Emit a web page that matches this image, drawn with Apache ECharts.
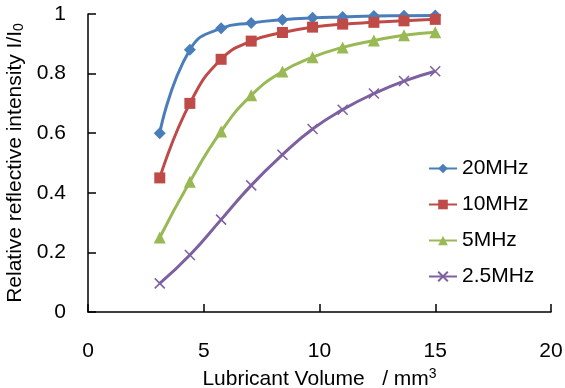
<!DOCTYPE html>
<html>
<head>
<meta charset="utf-8">
<script src="https://cdn.jsdelivr.net/npm/echarts@6/dist/echarts.min.js"></script>
<style>
  html, body { margin: 0; padding: 0; background: #fff; }
  #chart { width: 565px; height: 388px; }
</style>
</head>
<body>
<div id="chart"></div>
<script>
// lubricant volume (mm3)
const volumes = [3.1, 4.4, 5.75, 7.05, 8.4, 9.7, 11.0, 12.35, 13.65, 15.0];
const mhz20 = [0.60, 0.88, 0.952, 0.970, 0.981, 0.987, 0.990, 0.993, 0.994, 0.995];
const mhz10 = [0.45, 0.70, 0.848, 0.909, 0.938, 0.956, 0.966, 0.972, 0.977, 0.982];
const mhz5 = [0.25, 0.437, 0.606, 0.727, 0.807, 0.855, 0.888, 0.911, 0.929, 0.939];
const mhz2_5 = [0.096, 0.191, 0.31, 0.425, 0.528, 0.614, 0.679, 0.733, 0.775, 0.808];
const xTicks = [0, 5, 10, 15, 20];
const yTicks = [0, 0.2, 0.4, 0.6, 0.8, 1];

const font = 'Liberation Sans, Arial, sans-serif';
const pair = (ys) => ys.map((y, i) => [volumes[i], y]);

function line(name, data, color, symbol, size, extra) {
  return Object.assign({
    name: name,
    type: 'line',
    data: pair(data),
    smooth: 0.5,
    symbol: symbol,
    symbolSize: size,
    lineStyle: { color: color, width: 3 },
    itemStyle: { color: color },
  }, extra || {});
}

const chart = echarts.init(document.getElementById('chart'));
chart.setOption({
  animation: false,
  textStyle: { fontFamily: font, color: '#000' },
  grid: { left: 88, right: 14, top: 14, bottom: 76, outerBoundsMode: 'none' },
  legend: {
    orient: 'vertical',
    left: 423,
    top: 153,
    itemWidth: 28,
    itemHeight: 12,
    itemGap: 15,
    textStyle: { fontSize: 21, fontFamily: font, color: '#000' },
    data: ['20MHz', '10MHz', '5MHz', '2.5MHz'],
  },
  xAxis: {
    type: 'value',
    min: xTicks[0],
    max: xTicks[xTicks.length - 1],
    interval: 5,
    name: 'Lubricant Volume   / mm{sup|3}',
    nameLocation: 'middle',
    nameGap: 53,
    nameTextStyle: {
      fontSize: 21, fontFamily: font, color: '#000',
      rich: { sup: { fontSize: 14, verticalAlign: 'top', padding: [0, 0, 10, 0], fontFamily: font } },
    },
    splitLine: { show: false },
    axisLine: { lineStyle: { color: '#000', width: 1.5 } },
    axisTick: { inside: true, length: 8, lineStyle: { color: '#000', width: 1.5 } },
    axisLabel: { fontSize: 21, margin: 29, color: '#000', fontFamily: font },
  },
  yAxis: {
    type: 'value',
    min: yTicks[0],
    max: yTicks[yTicks.length - 1],
    interval: 0.2,
    name: 'Relative reflective intensity I/I{sub|0}',
    nameLocation: 'middle',
    nameGap: 62,
    nameTextStyle: {
      fontSize: 21, fontFamily: font, color: '#000',
      rich: { sub: { fontSize: 14, verticalAlign: 'bottom', padding: [8, 0, 0, 0], fontFamily: font } },
    },
    splitLine: { show: false },
    axisLine: { show: true, lineStyle: { color: '#000', width: 1.5 } },
    axisTick: { show: true, inside: true, length: 8, lineStyle: { color: '#000', width: 1.5 } },
    axisLabel: { fontSize: 21, margin: 22, color: '#000', fontFamily: font },
  },
  series: [
    line('20MHz', mhz20, '#4a7ebb', 'diamond', 12),
    line('10MHz', mhz10, '#be4b48', 'rect', 11),
    line('5MHz', mhz5, '#98b954', 'triangle', 12),
    line('2.5MHz', mhz2_5, '#7d60a0', 'path://M0,0L10,10M10,0L0,10', 10, {
      itemStyle: { color: '#7d60a0', borderColor: '#7d60a0', borderWidth: 1.5 },
    }),
  ],
});
</script>
</body>
</html>
